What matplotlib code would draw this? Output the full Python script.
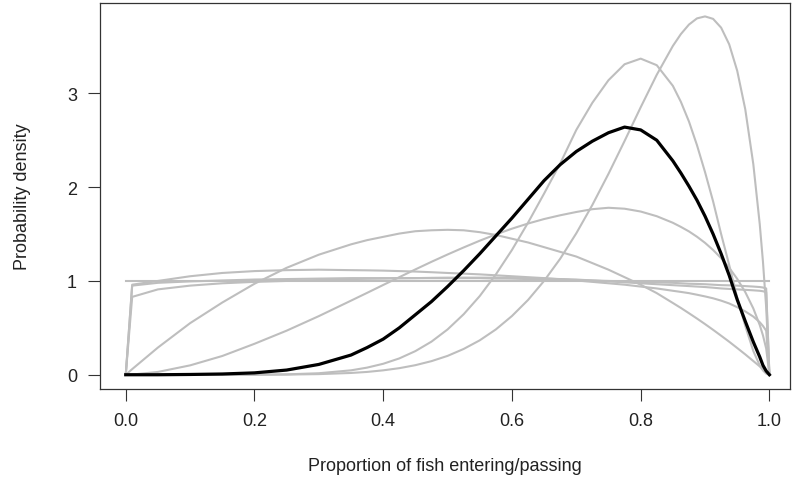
import matplotlib
matplotlib.use("Agg")
import matplotlib.pyplot as plt

plt.rcParams['font.family'] = ['Liberation Sans', 'DejaVu Sans']

# common x grid (proportion)
x = [0, 0.01, 0.05, 0.10, 0.15, 0.20, 0.25, 0.30, 0.35,
     0.375, 0.40, 0.425, 0.45, 0.475, 0.50,
     0.525, 0.55, 0.575, 0.60, 0.625, 0.65, 0.675, 0.70, 0.725, 0.75, 0.775, 0.80, 0.825, 0.85,
     0.8625, 0.875, 0.8875, 0.90, 0.9125, 0.925, 0.9375, 0.95, 0.9625, 0.975,
     0.985, 0.99, 0.995, 1.0]

# grey candidate densities
flat = [1.0] * len(x)
near_u = [0, 0.96, 1.00, 1.05, 1.085, 1.105, 1.115, 1.12, 1.115,
          1.113, 1.11, 1.105, 1.10, 1.093, 1.085,
          1.078, 1.07, 1.06, 1.05, 1.04, 1.03, 1.018, 1.005, 0.99, 0.975, 0.96, 0.94, 0.92, 0.895,
          0.883, 0.87, 0.853, 0.835, 0.815, 0.79, 0.76, 0.72, 0.675, 0.62,
          0.56, 0.52, 0.47, 0]
near_m = [0, 0.95, 0.98, 0.995, 1.005, 1.015, 1.02, 1.025, 1.03,
          1.03, 1.03, 1.03, 1.03, 1.03, 1.03,
          1.03, 1.03, 1.025, 1.025, 1.02, 1.02, 1.015, 1.01, 1.005, 1.0, 0.995, 0.99, 0.985, 0.98,
          0.975, 0.97, 0.968, 0.965, 0.96, 0.955, 0.953, 0.95, 0.945, 0.94,
          0.935, 0.93, 0.92, 0]
near_l = [0, 0.83, 0.91, 0.95, 0.975, 0.99, 1.0, 1.01, 1.02,
          1.023, 1.025, 1.028, 1.03, 1.033, 1.035,
          1.035, 1.035, 1.035, 1.03, 1.03, 1.025, 1.02, 1.015, 1.005, 0.995, 0.985, 0.975, 0.965, 0.955,
          0.95, 0.945, 0.94, 0.935, 0.928, 0.92, 0.915, 0.91, 0.905, 0.90,
          0.895, 0.89, 0.88, 0]
sym = [0, 0.06, 0.29, 0.55, 0.77, 0.97, 1.14, 1.28, 1.39,
       1.435, 1.47, 1.505, 1.53, 1.54, 1.545,
       1.54, 1.52, 1.49, 1.45, 1.41, 1.36, 1.31, 1.26, 1.19, 1.12, 1.04, 0.96, 0.87, 0.765,
       0.712, 0.656, 0.599, 0.54, 0.479, 0.416, 0.352, 0.285, 0.217, 0.146,
       0.089, 0.059, 0.030, 0]
mid = [0, 0.002, 0.03, 0.10, 0.20, 0.33, 0.47, 0.625, 0.79,
       0.873, 0.957, 1.04, 1.123, 1.204, 1.282,
       1.357, 1.429, 1.496, 1.557, 1.612, 1.66, 1.70, 1.735, 1.765, 1.78, 1.77, 1.74, 1.69, 1.62,
       1.576, 1.528, 1.471, 1.406, 1.330, 1.243, 1.141, 1.022, 0.881, 0.707,
       0.53, 0.419, 0.279, 0]
high8 = [0, 0, 0, 0, 0.0001, 0.0008, 0.0043, 0.016, 0.047,
         0.076, 0.117, 0.174, 0.252, 0.353, 0.483,
         0.645, 0.839, 1.069, 1.330, 1.621, 1.932, 2.253, 2.61, 2.90, 3.14, 3.31, 3.37, 3.30, 3.08,
         2.909, 2.70, 2.447, 2.16, 1.849, 1.50, 1.171, 0.821, 0.520, 0.253,
         0.099, 0.046, 0.012, 0]
high9 = [0, 0, 0, 0, 0, 0.0004, 0.0019, 0.0067, 0.019,
         0.030, 0.047, 0.070, 0.102, 0.145, 0.201,
         0.275, 0.367, 0.483, 0.626, 0.797, 1.001, 1.237, 1.508, 1.811, 2.142, 2.492, 2.851, 3.198, 3.505,
         3.632, 3.733, 3.799, 3.82, 3.794, 3.70, 3.523, 3.24, 2.830, 2.245,
         1.605, 1.204, 0.717, 0]

# highlighted (black) density
black = [0, 0, 0, 0.003, 0.008, 0.02, 0.05, 0.11, 0.21,
         0.29, 0.38, 0.50, 0.64, 0.78, 0.94,
         1.11, 1.29, 1.48, 1.67, 1.87, 2.07, 2.24, 2.38, 2.49, 2.58, 2.64, 2.61, 2.50, 2.28,
         2.15, 2.01, 1.86, 1.69, 1.50, 1.29, 1.06, 0.80, 0.57, 0.35,
         0.19, 0.10, 0.04, 0]

grey_series = [flat, near_u, near_m, near_l, sym, mid, high8, high9]

xticks = [0.0, 0.2, 0.4, 0.6, 0.8, 1.0]
xtick_labels = ["0.0", "0.2", "0.4", "0.6", "0.8", "1.0"]
yticks = [0, 1, 2, 3]
ytick_labels = ["0", "1", "2", "3"]

W, H = 795, 489
fig = plt.figure(figsize=(W / 100, H / 100), dpi=100)
ax = fig.add_axes([100 / W, 1 - 390 / H, 690 / W, 386 / H])

for s in grey_series:
    ax.plot(x, s, color="#BEBEBE", lw=1.5, solid_joinstyle="round")
ax.plot(x, black, color="black", lw=2.3, solid_joinstyle="round")

ax.set_xlim(-0.04, 1.032)
ax.set_ylim(-0.152, 3.963)

ax.set_xticks(xticks)
ax.set_xticklabels(xtick_labels)
ax.set_yticks(yticks)
ax.set_yticklabels(ytick_labels)
ax.tick_params(direction="out", length=8.5, width=0.8, color="#333333",
               labelsize=13, pad=8, labelcolor="#222222")
for sp in ax.spines.values():
    sp.set_linewidth(0.9)
    sp.set_color("#333333")

ax.set_xlabel("Proportion of fish entering/passing", fontsize=13, color="#222222")
ax.xaxis.set_label_coords(0.5, -0.199)
ax.xaxis.label.set_va("center")
ax.set_ylabel("Probability density", fontsize=13, color="#222222")
ax.yaxis.set_label_coords(-0.113, 0.5)
ax.yaxis.label.set_va("center")

fig.savefig("out.png", dpi=100)
